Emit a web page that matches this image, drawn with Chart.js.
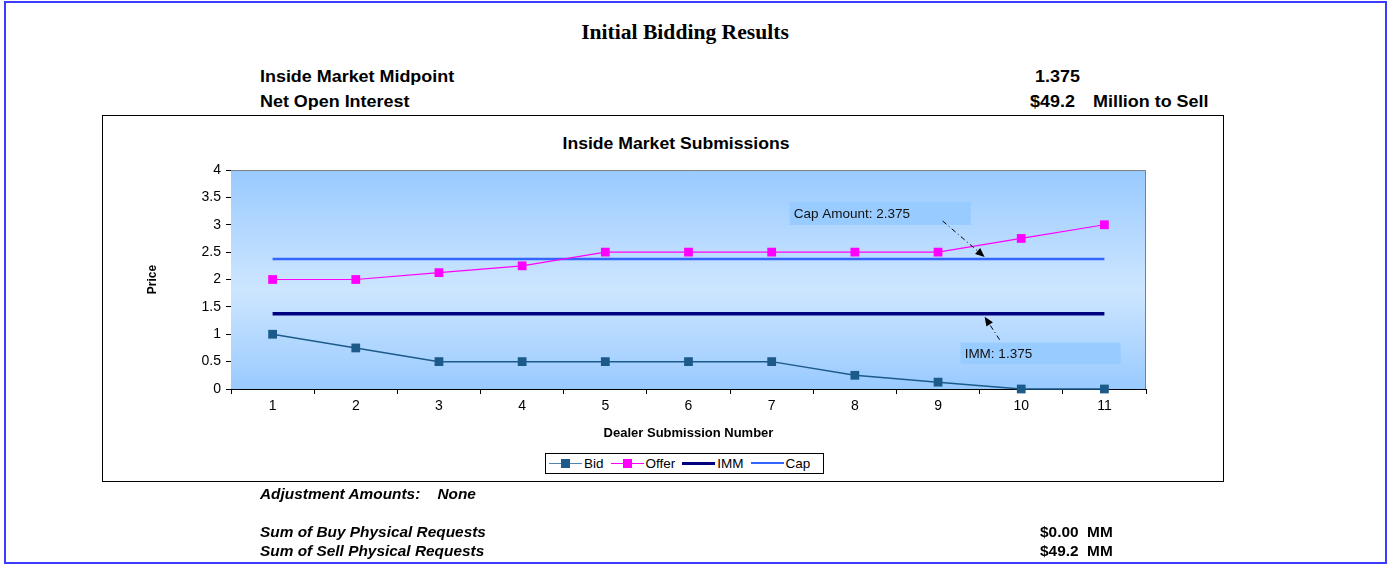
<!DOCTYPE html>
<html>
<head>
<meta charset="utf-8">
<script src="https://cdn.jsdelivr.net/npm/chart.js@4"></script>
<style>
  body { margin: 0; background: #fff; font-family: "Liberation Sans", Arial, sans-serif; }
  #page { position: relative; width: 1392px; height: 569px; overflow: hidden; }
  #outer { position: absolute; left: 4px; top: 1px; width: 1383px; height: 563px; border: 2px solid #3c3cff; box-sizing: border-box; }
  #chartBox { position: absolute; left: 102px; top: 115px; width: 1122px; height: 367px; border: 1px solid #000; box-sizing: border-box; }
  canvas { position: absolute; left: 0; top: 0; }
  .t { position: absolute; white-space: nowrap; color: #000; font-weight: bold; transform-origin: left center; }
  .head { font-size: 16px; transform: scaleX(1.12); }
  .foot { font-size: 14px; font-style: italic; transform: scaleX(1.1); }
  .centered { transform-origin: center center; text-align: center; }
  #legend { position: absolute; left: 545px; top: 453px; height: 21px; width: 279px; border: 1px solid #000; box-sizing: border-box;
    display: flex; align-items: center; padding: 0 0 0 3px; font-size: 13.5px; background: #fff; }
  .item { display: flex; align-items: center; }
  .swatch { position: relative; width: 33px; height: 10px; margin-right: 2px; }
  .swatch .ln { position: absolute; left: 0; right: 0; top: 50%; }
  .swatch .mk { position: absolute; left: 12px; top: 0; width: 9px; height: 9px; }
</style>
</head>
<body>
<div id="page">
  <div id="outer"></div>
  <div class="t centered" style="left:485px;width:400px;top:21px;font-family:'Liberation Serif','Times New Roman',serif;font-size:20px;transform:scaleX(1.08);">Initial Bidding Results</div>
  <div class="t head" style="left:260px;top:68px;">Inside Market Midpoint</div>
  <div class="t head" style="left:1035px;top:68px;">1.375</div>
  <div class="t head" style="left:260px;top:93px;">Net Open Interest</div>
  <div class="t head" style="left:1030px;top:93px;">$49.2</div>
  <div class="t head" style="left:1093px;top:93px;">Million to Sell</div>
  <div id="chartBox"></div>
  <div class="t head centered" style="left:476px;width:400px;top:135px;transform:scaleX(1.1);">Inside Market Submissions</div>
  <canvas id="chart" width="1392" height="569"></canvas>
  <div id="legend"></div>
  <div class="t foot" style="left:260px;top:486px;">Adjustment Amounts:&nbsp;&nbsp;&nbsp; None</div>
  <div class="t foot" style="left:260px;top:524px;">Sum of Buy Physical Requests</div>
  <div class="t foot" style="left:260px;top:543px;">Sum of Sell Physical Requests</div>
  <div class="t foot" style="left:1040px;top:524px;font-style:normal;">$0.00&nbsp;&nbsp;MM</div>
  <div class="t foot" style="left:1040px;top:543px;font-style:normal;">$49.2&nbsp;&nbsp;MM</div>
</div>
<script>
const SUBMISSIONS = ["1", "2", "3", "4", "5", "6", "7", "8", "9", "10", "11"];
const BID = [1, 0.75, 0.5, 0.5, 0.5, 0.5, 0.5, 0.25, 0.125, 0, 0];
const OFFER = [2, 2, 2.125, 2.25, 2.5, 2.5, 2.5, 2.5, 2.5, 2.75, 3];
const IMM = 1.375;
const CAP = 2.375;
const Y_TICKS = [0, 0.5, 1, 1.5, 2, 2.5, 3, 3.5, 4];

const SERIES = [
  { label: "Bid", data: BID, color: "#1c5a8a", width: 1.5, marker: true },
  { label: "Offer", data: OFFER, color: "#ff00ff", width: 1.2, marker: true },
  { label: "IMM", data: SUBMISSIONS.map(() => IMM), color: "#000080", width: 3.5, marker: false },
  { label: "Cap", data: SUBMISSIONS.map(() => CAP), color: "#3366ff", width: 2.5, marker: false },
];

// callout boxes: anchor is a (category index, value) point, box placed by pixel offset from it
const CALLOUTS = [
  { text: "Cap Amount: " + CAP, at: 8.56, value: CAP, side: "above", box: { dx: -195, dy: -55, w: 181, h: 23 }, tail: { dx: -42, dy: -36 } },
  { text: "IMM: " + IMM, at: 8.56, value: IMM, side: "below", box: { dx: -24, dy: 26, w: 160, h: 21 }, tail: { dx: 15, dy: 23 } },
];

const plotBackground = {
  id: "plotBackground",
  beforeDatasetsDraw(chart) {
    const { ctx, chartArea: a } = chart;
    const g = ctx.createLinearGradient(0, a.top, 0, a.bottom);
    g.addColorStop(0, "#99caff");
    g.addColorStop(0.55, "#cde6ff");
    g.addColorStop(1, "#99caff");
    ctx.save();
    ctx.fillStyle = g;
    ctx.fillRect(a.left, a.top, a.right - a.left, a.bottom - a.top);
    ctx.strokeStyle = "#808080";
    ctx.lineWidth = 1;
    ctx.beginPath();
    ctx.moveTo(a.left, a.top + 0.5);
    ctx.lineTo(a.right - 0.5, a.top + 0.5);
    ctx.lineTo(a.right - 0.5, a.bottom);
    ctx.stroke();
    ctx.restore();
  },
};

const callouts = {
  id: "callouts",
  afterDatasetsDraw(chart) {
    const { ctx } = chart;
    const xs = chart.scales.x;
    const ys = chart.scales.y;
    ctx.save();
    CALLOUTS.forEach((c) => {
      const px = xs.getPixelForValue(c.at);
      const py = ys.getPixelForValue(c.value) + (c.side === "above" ? -2 : 3);
      const bx = px + c.box.dx;
      const by = py + c.box.dy;
      ctx.fillStyle = "rgba(150, 202, 255, 0.9)";
      ctx.fillRect(bx, by, c.box.w, c.box.h);
      ctx.fillStyle = "#111";
      ctx.font = "13.5px 'Liberation Sans', Arial, sans-serif";
      ctx.textBaseline = "middle";
      ctx.fillText(c.text, bx + 4, by + c.box.h / 2 + 1);

      const sx = px + c.tail.dx;
      const sy = py + c.tail.dy;
      const ang = Math.atan2(py - sy, px - sx);
      const headLen = 10;
      ctx.strokeStyle = "#000";
      ctx.lineWidth = 1;
      ctx.setLineDash([5, 3, 1, 3]);
      ctx.beginPath();
      ctx.moveTo(sx, sy);
      ctx.lineTo(px - headLen * Math.cos(ang), py - headLen * Math.sin(ang));
      ctx.stroke();
      ctx.setLineDash([]);
      ctx.fillStyle = "#000";
      ctx.beginPath();
      ctx.moveTo(px, py);
      ctx.lineTo(px - headLen * Math.cos(ang - 0.4), py - headLen * Math.sin(ang - 0.4));
      ctx.lineTo(px - headLen * Math.cos(ang + 0.4), py - headLen * Math.sin(ang + 0.4));
      ctx.closePath();
      ctx.fill();
    });
    ctx.restore();
  },
};

const tickFont = { family: "'Liberation Sans', Arial, sans-serif", size: 14 };
const titleFont = { family: "'Liberation Sans', Arial, sans-serif", size: 13, weight: "bold" };

new Chart(document.getElementById("chart"), {
  type: "line",
  data: {
    labels: SUBMISSIONS,
    datasets: SERIES.map((s) => ({
      label: s.label,
      data: s.data,
      borderColor: s.color,
      backgroundColor: s.color,
      borderWidth: s.width,
      pointStyle: "rect",
      pointRadius: s.marker ? 6.2 : 0,
      pointBorderWidth: 0,
      pointHoverRadius: 0,
      tension: 0,
      clip: false,
    })),
  },
  options: {
    responsive: false,
    animation: false,
    events: [],
    layout: { padding: { left: 141, right: 246, top: 170, bottom: 124 } },
    plugins: { legend: { display: false }, tooltip: { enabled: false } },
    scales: {
      x: {
        offset: true,
        afterFit: (scale) => { scale.height = 56; },
        grid: { offset: true, drawOnChartArea: false, tickLength: 5, color: "#000" },
        border: { color: "#000", width: 1 },
        ticks: { color: "#000", font: tickFont, padding: 4, maxRotation: 0 },
        title: { display: true, text: "Dealer Submission Number", color: "#000", font: titleFont, padding: 4 },
      },
      y: {
        min: 0,
        max: 4,
        afterFit: (scale) => { scale.width = 90; },
        afterBuildTicks: (scale) => { scale.ticks = Y_TICKS.map((v) => ({ value: v })); },
        grid: { drawOnChartArea: false, tickLength: 5, color: "#000" },
        border: { color: "#000", width: 1 },
        ticks: { color: "#000", font: tickFont, padding: 5, callback: (v) => String(v) },
        title: { display: true, text: "Price", color: "#000", font: { ...titleFont, size: 12 }, padding: 4 },
      },
    },
  },
  plugins: [plotBackground, callouts],
});

const legend = document.getElementById("legend");
legend.innerHTML = SERIES.map((s) => {
  const lw = Math.max(1.5, s.width);
  const lineColor = s.label === "Bid" ? "#4f86b0" : s.color;
  return `
  <div class="item">
    <div class="swatch">
      <div class="ln" style="border-top:${lw}px solid ${lineColor};margin-top:-${lw / 2}px"></div>
      ${s.marker ? `<div class="mk" style="background:${s.color}"></div>` : ""}
    </div>
    <span style="margin-right:7px">${s.label}</span>
  </div>`;
}).join("");
</script>
</body>
</html>
